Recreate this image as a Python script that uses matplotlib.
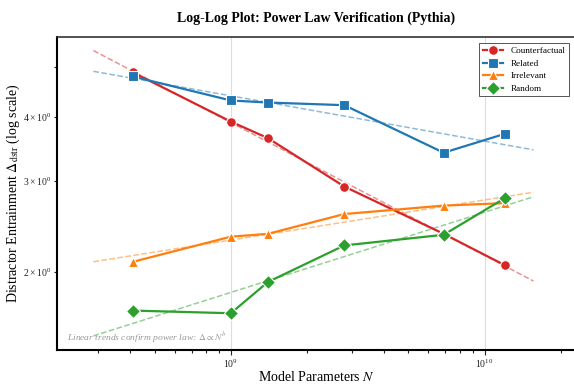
import numpy as np
import matplotlib
matplotlib.use("Agg")
import matplotlib.pyplot as plt

plt.rcParams['font.family'] = ['Liberation Serif', 'DejaVu Serif']
plt.rcParams['mathtext.fontset'] = 'stix'

params = [0.41e9, 1.0e9, 1.4e9, 2.8e9, 6.9e9, 12e9]
counterfactual = [4.89, 3.92, 3.64, 2.93, 2.37, 2.06]
related = [4.80, 4.31, 4.27, 4.22, 3.41, 3.71]
irrelevant = [2.09, 2.34, 2.37, 2.59, 2.69, 2.72]
random_ = [1.68, 1.66, 1.91, 2.25, 2.36, 2.78]

series = [
    ("Counterfactual", counterfactual, '#d62728', 'o'),
    ("Related", related, '#1f77b4', 's'),
    ("Irrelevant", irrelevant, '#ff7f0e', '^'),
    ("Random", random_, '#2ca02c', 'D'),
]

fig = plt.figure(figsize=(5.74, 3.85), dpi=100)
ax = fig.add_axes([0.099, 0.091, 0.905, 0.813])

x = np.array(params)
xfit = np.geomspace(x.min() * 0.7, x.max() * 1.3, 50)
for name, vals, color, marker in series:
    ax.plot(x, vals, color=color, marker=marker, markersize=7 if marker != '^' else 6.5,
            linewidth=1.6, markeredgecolor='white', markeredgewidth=0.8, label=name, zorder=3)
    b, a = np.polyfit(np.log10(x), np.log10(vals), 1)
    ax.plot(xfit, 10 ** (a + b * np.log10(xfit)), color=color, linestyle='--',
            linewidth=1.1, alpha=0.5, zorder=2)

ax.set_xscale('log')
ax.set_yscale('log')
ax.set_xlim(2.06e8, 2.3e10)
ax.set_ylim(1.408, 5.73)

ax.grid(True, which='major', color='#dddddd', linewidth=0.8)
ax.set_axisbelow(True)

ax.spines['left'].set_linewidth(1.5)
ax.spines['bottom'].set_linewidth(1.5)
ax.spines['top'].set_linewidth(1.2)
ax.spines['top'].set_color('#333333')
ax.spines['right'].set_visible(False)

ax.tick_params(which='both', labelsize=7, colors='#222222', width=0.8, pad=2)
ax.tick_params(which='major', length=3.5)
ax.tick_params(which='minor', length=2)

ax.set_xlabel("Model Parameters $N$", fontsize=10, labelpad=0)
ax.set_ylabel(r"Distractor Entrainment $\Delta_{\mathrm{dstr}}$ (log scale)", fontsize=10, labelpad=1)
ax.set_title("Log-Log Plot: Power Law Verification (Pythia)", fontsize=10, fontweight='bold', pad=11)

ax.text(0.02, 0.03, r"Linear trends confirm power law: $\Delta \propto N^b$", transform=ax.transAxes,
        fontsize=6.8, style='italic', color='#999999')

leg = ax.legend(loc='upper right', fontsize=6.6, frameon=True, fancybox=False,
                edgecolor='#555555', framealpha=1, borderpad=0.4, handlelength=2.2,
                labelspacing=0.45, bbox_to_anchor=(0.995, 0.995))
leg.get_frame().set_linewidth(0.7)

fig.savefig("out.png", dpi=100)
